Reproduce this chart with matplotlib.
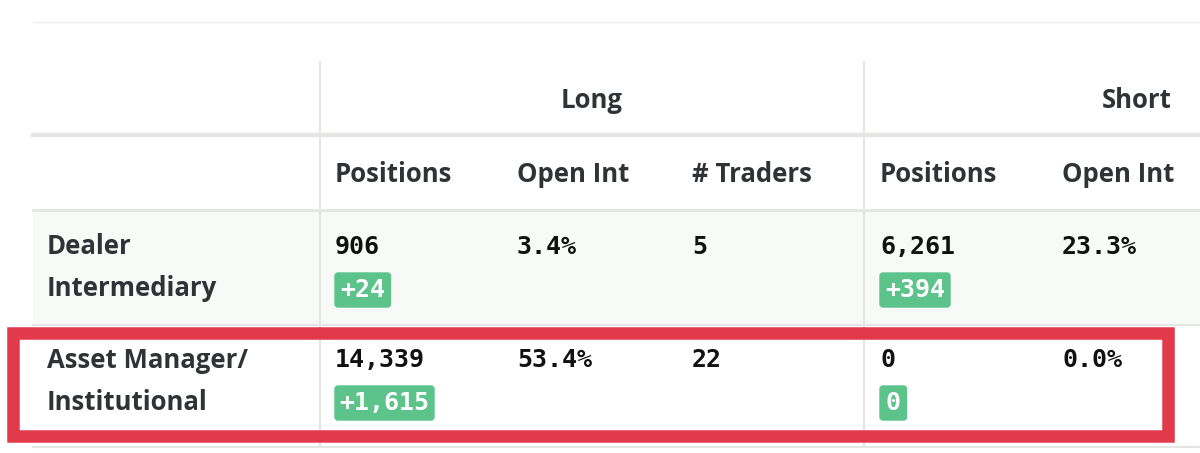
import matplotlib
matplotlib.use("Agg")
import matplotlib.pyplot as plt
from matplotlib.patches import Rectangle, FancyBboxPatch

groups = ["Long", "Short"]
columns = ["Positions", "Open Int", "# Traders", "Positions", "Open Int"]
row_labels = [["Dealer", "Intermediary"], ["Asset Manager/", "Institutional"]]
long_pos = ["906", "14,339"]
long_chg = ["+24", "+1,615"]
long_oi = ["3.4%", "53.4%"]
long_traders = ["5", "22"]
short_pos = ["6,261", "0"]
short_chg = ["+394", "0"]
short_oi = ["23.3%", "0.0%"]

fig = plt.figure(figsize=(12, 4.53), dpi=100)
ax = fig.add_axes([0, 0, 1, 1])
ax.set_xlim(0, 1200); ax.set_ylim(453, 0); ax.axis("off")

txt = "#2f3336"
sans = ["Open Sans", "DejaVu Sans"]
mono = "DejaVu Sans Mono"
grid = "#e3e6e3"
fs = 18.5
ms = 18

ax.add_patch(Rectangle((33, 210), 1167, 115, color="#f7faf6", zorder=0))
ax.plot([33, 1200], [22, 22], color="#eeeeee", lw=1)
for y, lw in [(135, 3), (210, 2), (325, 1.5), (447, 1.5)]:
    ax.plot([33, 1200], [y, y], color=grid, lw=lw)
for x in [320, 864]:
    ax.plot([x, x], [62, 325], color=grid, lw=1.5)
    ax.plot([x, x], [325, 445], color=grid, lw=1.5)

ax.text(592, 100, groups[0], ha="center", va="center", fontsize=fs, fontweight="bold", color=txt, family=sans)
ax.text(1137, 100, groups[1], ha="center", va="center", fontsize=fs, fontweight="bold", color=txt, family=sans)
colx = [335, 517, 692, 880, 1062]
for x, c in zip(colx, columns):
    ax.text(x, 175, c, ha="left", va="center", fontsize=fs, fontweight="bold", color=txt, family=sans)

rows_y = [247, 360]
def badge(x, y, s):
    w = 14.5 * len(s) + 12
    ax.add_patch(FancyBboxPatch((x, y - 17), w, 34, boxstyle="round,pad=0,rounding_size=3",
                                color="#5cc48b", zorder=2))
    ax.text(x + w / 2, y, s, ha="center", va="center", fontsize=ms, fontweight="bold",
            color="white", family=mono, zorder=3)

for i, y in enumerate(rows_y):
    ax.text(47, y, row_labels[i][0], ha="left", va="center", fontsize=fs, fontweight="bold", color=txt, family=sans)
    ax.text(47, y + 42, row_labels[i][1], ha="left", va="center", fontsize=fs, fontweight="bold", color=txt, family=sans)
    for x, v in zip(colx, [long_pos[i], long_oi[i], long_traders[i], short_pos[i], short_oi[i]]):
        ax.text(x, y, v, ha="left", va="center", fontsize=ms, fontweight="bold", color="#111111", family=mono)
    badge(335, y + 43, long_chg[i])
    badge(880, y + 43, short_chg[i])

ax.add_patch(Rectangle((13, 333), 1155, 103, fill=False, edgecolor="#e23a4b", lw=9, zorder=5))

fig.savefig("out.png", dpi=100)
